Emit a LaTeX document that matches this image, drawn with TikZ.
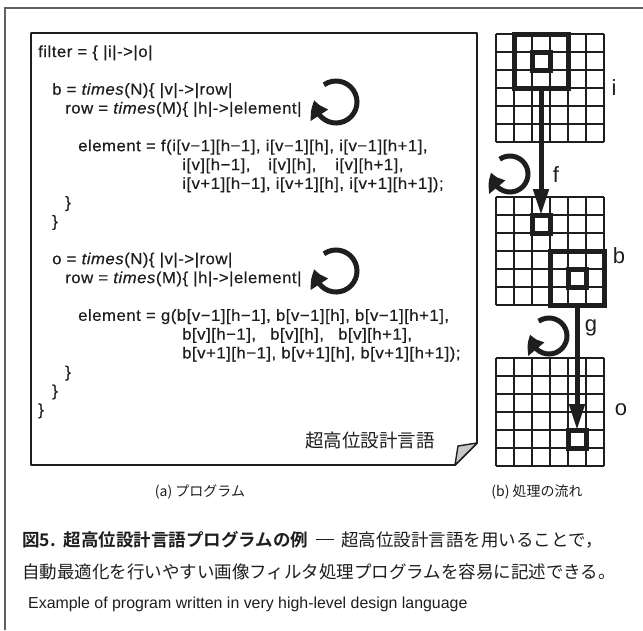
\documentclass[tikz,border=0pt]{standalone}
\usepackage{fontspec}
\setmainfont{Liberation Sans}
\newfontfamily\codefont[FakeStretch=1.05,LetterSpace=3,FakeBold=0.4]{Liberation Sans}
\newfontfamily\labfont{Liberation Sans}
\newfontfamily\jp{Noto Sans CJK JP}[BoldFont={* Bold}]
\usetikzlibrary{arrows.meta,bending}
\definecolor{ink}{HTML}{1E1E1E}
\definecolor{framegray}{HTML}{606060}
\definecolor{foldgray}{HTML}{C8C8C8}
\tikzset{
  code/.style={anchor=base west, inner sep=0pt, text=ink, font=\codefont\fontsize{16pt}{18pt}\selectfont},
  lab/.style={anchor=center, inner sep=0pt, text=ink, font=\labfont\fontsize{22pt}{24pt}\selectfont},
  capt/.style={anchor=center, inner sep=0pt, text=ink, font=\jp\fontsize{14pt}{16pt}\selectfont},
  gridline/.style={draw=ink, line width=1.5pt},
  thickbox/.style={draw=ink, line width=5pt, inner sep=0pt, outer sep=0pt, rectangle},
  flowarrow/.style={draw=ink, line width=5pt, -{Triangle[length=26pt,width=15pt]}},
  looparrow/.style={draw=ink, line width=5pt, -{Triangle[bend,length=16pt,width=20pt]}},
}
\begin{document}
\begin{tikzpicture}[x=1pt,y=-1pt]
\fill[white] (0,0) rectangle (643,630);
\useasboundingbox (0,0) rectangle (643,630);
% outer frame
\draw[framegray, line width=1.4pt] (5,630) -- (5,8) -- (643,8);
% program sheet
\draw[ink, line width=1.8pt, line join=round] (31,33) -- (477,33) -- (477,443) -- (455,465) -- (31,465) -- cycle;
\draw[ink, line width=1.4pt, fill=foldgray, line join=round] (455,465) -- (458,446) -- (477,443) -- cycle;
% code
\node[code] (l0) at (38,57) {filter = \{ |i|->|o|};
\node[code] (l2) at (52,94.7) {b = \textit{times}(N)\{ |v|->|row|};
\node[code] (l3) at (65,113.5) {row = \textit{times}(M)\{ |h|->|element|};
\node[code] (l5) at (78,151.2) {element = f(i[v−1][h−1], i[v−1][h], i[v−1][h+1],};
\node[code] (l6a) at (182,170) {i[v][h−1],};
\node[code] (l6b) at (268,170) {i[v][h],};
\node[code] (l6c) at (335,170) {i[v][h+1],};
\node[code] (l7) at (182,188.9) {i[v+1][h−1], i[v+1][h], i[v+1][h+1]);};
\node[code] (l8) at (65,207.7) {\}};
\node[code] (l9) at (52,226.6) {\}};
\node[code] (l11) at (52,264.2) {o = \textit{times}(N)\{ |v|->|row|};
\node[code] (l12) at (65,283.1) {row = \textit{times}(M)\{ |h|->|element|};
\node[code] (l14) at (78,320.8) {element = g(b[v−1][h−1], b[v−1][h], b[v−1][h+1],};
\node[code] (l15a) at (182,339.6) {b[v][h−1],};
\node[code] (l15b) at (270,339.6) {b[v][h],};
\node[code] (l15c) at (338,339.6) {b[v][h+1],};
\node[code] (l16) at (182,358.4) {b[v+1][h−1], b[v+1][h], b[v+1][h+1]);};
\node[code] (l17) at (65,377.3) {\}};
\node[code] (l18) at (52,396.1) {\}};
\node[code] (l19) at (38,415) {\}};
\node[anchor=center, inner sep=0pt, text=ink, font=\jp\fontsize{18.5pt}{20pt}\selectfont] (lang) at (370,440) {超高位設計言語};
% loop arrows in program
\coordinate (c1) at (336,102);
\coordinate (c2) at (336,271);
\draw[looparrow] (c1) ++(125:21pt) arc[start angle=125, end angle=-185, radius=21pt];
\draw[looparrow] (c2) ++(125:21pt) arc[start angle=125, end angle=-185, radius=21pt];
% grids
\foreach \gy in {34,197,358}{
  \foreach \k in {0,...,6}{
    \draw[gridline] (496+18*\k,\gy) -- (496+18*\k,\gy+108);
    \draw[gridline] (496,\gy+18*\k) -- (604,\gy+18*\k);
  }
}
\node[thickbox, minimum width=54pt, minimum height=54pt] (bigI) at (541,61) {};
\node[thickbox, minimum width=18pt, minimum height=18pt] (smallI) at (541,61) {};
\node[thickbox, minimum width=18pt, minimum height=18pt] (smallB) at (541,224) {};
\node[thickbox, minimum width=54pt, minimum height=54pt] (bigB) at (577,278) {};
\node[thickbox, minimum width=18pt, minimum height=18pt] (smallBB) at (577,278) {};
\node[thickbox, minimum width=18pt, minimum height=18pt] (smallO) at (577,439) {};
\draw[flowarrow] (bigI.south) -- (smallB.north);
\draw[flowarrow] (bigB.south) -- (smallO.north);
\coordinate (cf) at (510,174);
\coordinate (cg) at (549,336);
\draw[looparrow] (cf) ++(125:18pt) arc[start angle=125, end angle=-185, radius=18pt];
\draw[looparrow] (cg) ++(125:18pt) arc[start angle=125, end angle=-185, radius=18pt];
\node[lab] (li) at (614,88) {i};
\node[lab] (lf) at (556,175) {f};
\node[lab] (lb) at (619,256) {b};
\node[lab] (lg) at (591,328) {g};
\node[lab] (lo) at (621,410) {o};
% sub captions
\node[capt] (capa) at (200,492) {(a) プログラム};
\node[capt] (capb) at (537,492) {(b) 処理の流れ};
% figure caption
\node[anchor=base west, inner sep=0pt, text=ink, font=\jp\fontsize{17.5pt}{20pt}\selectfont] (cap1) at (22,546) {{\bfseries 図5.\hspace{0.45em}超高位設計言語プログラムの例}\hspace{0.45em}\rule[0.33em]{1.05em}{0.06em}\hspace{0.4em}超高位設計言語を用いることで，};
\node[anchor=base west, inner sep=0pt, text=ink, font=\jp\fontsize{17.5pt}{20pt}\selectfont] (cap2) at (22,578) {自動最適化を行いやすい画像フィルタ処理プログラムを容易に記述できる。};
\node[anchor=base west, inner sep=0pt, text=ink, font=\labfont\fontsize{15.9pt}{17pt}\selectfont] (cap3) at (28,608) {Example of program written in very high-level design language};
\end{tikzpicture}
\end{document}
